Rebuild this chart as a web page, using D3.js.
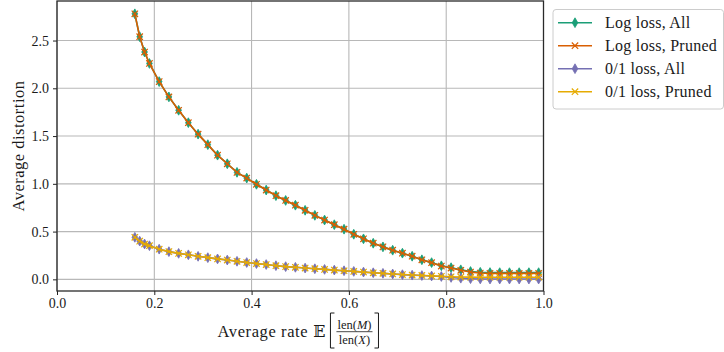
<!DOCTYPE html>
<html><head><meta charset="utf-8">
<script src="https://cdn.jsdelivr.net/npm/d3@7"></script>
<style>
body{margin:0;background:#fff}
svg{display:block}
text{font-family:"Liberation Serif","Tinos","Times New Roman","DejaVu Serif",serif;fill:#1a1a1a}
</style>
</head><body>
<svg id="chart" width="724" height="352"></svg>
<script>
// Average rate E[len(M)/len(X)] at which each operating point was measured
const rate = [0.16, 0.17, 0.18, 0.19, 0.21, 0.23, 0.25, 0.27, 0.29, 0.31,
              0.33, 0.35, 0.37, 0.39, 0.41, 0.43, 0.45, 0.47, 0.49, 0.51,
              0.53, 0.55, 0.57, 0.59, 0.61, 0.63, 0.65, 0.67, 0.69, 0.71,
              0.73, 0.75, 0.77, 0.79, 0.81, 0.83, 0.85, 0.87, 0.89, 0.91,
              0.93, 0.95, 0.97, 0.99];

// Average distortion per series
const logAll = [2.78, 2.54, 2.38, 2.26, 2.07, 1.91, 1.77, 1.64, 1.52, 1.41,
                1.30, 1.21, 1.12, 1.06, 0.995, 0.935, 0.876, 0.826, 0.776, 0.723,
                0.670, 0.621, 0.572, 0.525, 0.472, 0.424, 0.378, 0.340, 0.305, 0.274,
                0.242, 0.205, 0.175, 0.142, 0.122, 0.100, 0.082, 0.074, 0.071, 0.070,
                0.070, 0.070, 0.070, 0.070];
const logPruned = [2.78, 2.54, 2.38, 2.26, 2.07, 1.91, 1.77, 1.64, 1.52, 1.41,
                   1.30, 1.21, 1.12, 1.06, 0.995, 0.935, 0.876, 0.826, 0.776, 0.723,
                   0.670, 0.621, 0.572, 0.525, 0.472, 0.424, 0.378, 0.340, 0.305, 0.274,
                   0.242, 0.205, 0.174, 0.139, 0.118, 0.095, 0.076, 0.066, 0.063, 0.062,
                   0.062, 0.062, 0.062, 0.062];
const zeroOneAll = [0.44, 0.40, 0.37, 0.352, 0.316, 0.290, 0.272, 0.257, 0.241, 0.227,
                    0.214, 0.202, 0.189, 0.176, 0.165, 0.155, 0.143, 0.133, 0.126, 0.118,
                    0.111, 0.104, 0.097, 0.090, 0.083, 0.076, 0.069, 0.063, 0.056, 0.049,
                    0.044, 0.040, 0.035, 0.030, 0.020, 0.012, 0.007, 0.004, 0.003, 0.003,
                    0.003, 0.003, 0.003, 0.003];
const zeroOnePruned = [0.44, 0.40, 0.37, 0.352, 0.316, 0.290, 0.272, 0.257, 0.241, 0.227,
                       0.214, 0.202, 0.189, 0.176, 0.165, 0.155, 0.143, 0.133, 0.126, 0.118,
                       0.111, 0.104, 0.097, 0.090, 0.083, 0.076, 0.069, 0.063, 0.056, 0.050,
                       0.045, 0.041, 0.036, 0.032, 0.027, 0.024, 0.023, 0.022, 0.022, 0.022,
                       0.022, 0.022, 0.022, 0.022];

const seriesNames = ["Log loss, All", "Log loss, Pruned", "0/1 loss, All", "0/1 loss, Pruned"];
const seriesValues = [logAll, logPruned, zeroOneAll, zeroOnePruned];
const seriesColors = ["#1b9e77", "#d95f02", "#7570b3", "#e6ab02"];
const seriesMarkers = ["thin_diamond", "x", "thin_diamond", "x"];

const xTickValues = [0.0, 0.2, 0.4, 0.6, 0.8, 1.0];
const yTickValues = [0.0, 0.5, 1.0, 1.5, 2.0, 2.5];

const serif = '"Liberation Serif","Tinos","Times New Roman","DejaVu Serif",serif';

const svg = d3.select("#chart");
const plot = {left: 57, right: 543.5, top: 1, bottom: 291};

const x = d3.scaleLinear().domain([0, 1]).range([plot.left, plot.right]);
const y = d3.scaleLinear().domain([-0.122, 2.914]).range([plot.bottom, plot.top]);

// grid
const grid = svg.append("g");
grid.selectAll("line.gx").data(xTickValues).join("line")
  .attr("x1", d => x(d)).attr("x2", d => x(d))
  .attr("y1", plot.top).attr("y2", plot.bottom)
  .attr("stroke", "#b0b0b0").attr("stroke-width", 1);
grid.selectAll("line.gy").data(yTickValues).join("line")
  .attr("x1", plot.left).attr("x2", plot.right)
  .attr("y1", d => y(d)).attr("y2", d => y(d))
  .attr("stroke", "#b8b8b8").attr("stroke-width", 1.1);

// axes
const xAxis = d3.axisBottom(x).tickValues(xTickValues).tickFormat(d3.format(".1f"))
  .tickSizeInner(4).tickSizeOuter(0).tickPadding(3);
const yAxis = d3.axisLeft(y).tickValues(yTickValues).tickFormat(d3.format(".1f"))
  .tickSizeInner(4).tickSizeOuter(0).tickPadding(4);

const gx = svg.append("g").attr("transform", `translate(0,${plot.bottom})`).call(xAxis);
const gy = svg.append("g").attr("transform", `translate(${plot.left},0)`).call(yAxis);
[gx, gy].forEach(g => {
  g.attr("font-family", null).attr("font-size", null);
  g.select(".domain").remove();
  g.selectAll(".tick line").attr("stroke", "#222").attr("stroke-width", 1);
  g.selectAll(".tick text").style("font-family", serif)
    .style("font-size", "14px").attr("fill", "#1a1a1a");
});

// markers
function markerPath(type) {
  if (type === "x") return "M-3.2,-3.2L3.2,3.2M-3.2,3.2L3.2,-3.2";
  return "M0,-4.9L2.8,0L0,4.9L-2.8,0Z";
}

const line = d3.line().x(d => x(d[0])).y(d => y(d[1]));
const series = svg.append("g");
seriesValues.forEach((vals, i) => {
  const pts = rate.map((r, j) => [r, vals[j]]);
  const g = series.append("g");
  g.append("path").datum(pts).attr("d", line)
    .attr("fill", "none").attr("stroke", seriesColors[i])
    .attr("stroke-width", 1.6).attr("stroke-linejoin", "round");
  const isX = seriesMarkers[i] === "x";
  g.selectAll("path.m").data(pts).join("path")
    .attr("class", "m")
    .attr("transform", d => `translate(${x(d[0])},${y(d[1])})`)
    .attr("d", markerPath(seriesMarkers[i]))
    .attr("fill", isX ? "none" : seriesColors[i])
    .attr("stroke", seriesColors[i])
    .attr("stroke-width", isX ? 1.2 : 0.8);
});

// frame
svg.append("rect")
  .attr("x", plot.left).attr("y", plot.top)
  .attr("width", plot.right - plot.left).attr("height", plot.bottom - plot.top)
  .attr("fill", "none").attr("stroke", "#2a2a2a").attr("stroke-width", 1.3);

// y label
svg.append("text")
  .attr("transform", `translate(24,${(plot.top + plot.bottom) / 2}) rotate(-90)`)
  .attr("text-anchor", "middle")
  .style("font-size", "16.5px").attr("letter-spacing", 0.5)
  .text("Average distortion");

// x label: Average rate E[ len(M) / len(X) ]
const xl = svg.append("g");
const t1 = xl.append("text").attr("x", 0).attr("y", 0).style("font-size", "16.5px")
  .attr("letter-spacing", 0.6).text("Average rate");
let cx = t1.node().getComputedTextLength() + 5;
const tE = xl.append("text").attr("x", cx).attr("y", 0).style("font-size", "16px")
  .style("font-family", '"DejaVu Serif","DejaVu Sans",serif').text("\u{1D53C}");
cx += tE.node().getComputedTextLength() + 5;
const bTop = -24, bBot = 11;
xl.append("path").attr("d", `M${cx + 4},${bTop}H${cx}V${bBot}H${cx + 4}`)
  .attr("fill", "none").attr("stroke", "#1a1a1a").attr("stroke-width", 1);
cx += 6;
const num = xl.append("text").attr("y", -8).style("font-size", "12.5px").attr("text-anchor", "middle");
num.append("tspan").text("len(");
num.append("tspan").attr("font-style", "italic").text("M");
num.append("tspan").text(")");
const den = xl.append("text").attr("y", 7).style("font-size", "12.5px").attr("text-anchor", "middle");
den.append("tspan").text("len(");
den.append("tspan").attr("font-style", "italic").text("X");
den.append("tspan").text(")");
const fw = Math.max(num.node().getComputedTextLength(), den.node().getComputedTextLength()) + 2;
num.attr("x", cx + fw / 2);
den.attr("x", cx + fw / 2);
xl.append("line").attr("x1", cx).attr("x2", cx + fw).attr("y1", -5.3).attr("y2", -5.3)
  .attr("stroke", "#1a1a1a").attr("stroke-width", 0.8);
cx += fw + 2;
xl.append("path").attr("d", `M${cx},${bTop}H${cx + 4}V${bBot}H${cx}`)
  .attr("fill", "none").attr("stroke", "#1a1a1a").attr("stroke-width", 1);
cx += 4;
xl.attr("transform", `translate(${298 - cx / 2},337)`);

// legend
const lg = svg.append("g");
lg.append("rect").attr("x", 553).attr("y", 9.5).attr("width", 170.5).attr("height", 99.5)
  .attr("rx", 3).attr("fill", "#fff").attr("fill-opacity", 0.8)
  .attr("stroke", "#cccccc").attr("stroke-width", 1);
seriesNames.forEach((name, i) => {
  const yy = 22.7 + i * 23;
  const isX = seriesMarkers[i] === "x";
  lg.append("line").attr("x1", 558).attr("x2", 592).attr("y1", yy).attr("y2", yy)
    .attr("stroke", seriesColors[i]).attr("stroke-width", 1.6);
  lg.append("path").attr("transform", `translate(575,${yy})`)
    .attr("d", markerPath(seriesMarkers[i]))
    .attr("fill", isX ? "none" : seriesColors[i])
    .attr("stroke", seriesColors[i]).attr("stroke-width", isX ? 1.2 : 0.8);
  lg.append("text").attr("x", 605).attr("y", yy + 5).style("font-size", "16px")
    .attr("letter-spacing", 0.25).text(name);
});
</script>
</body></html>
